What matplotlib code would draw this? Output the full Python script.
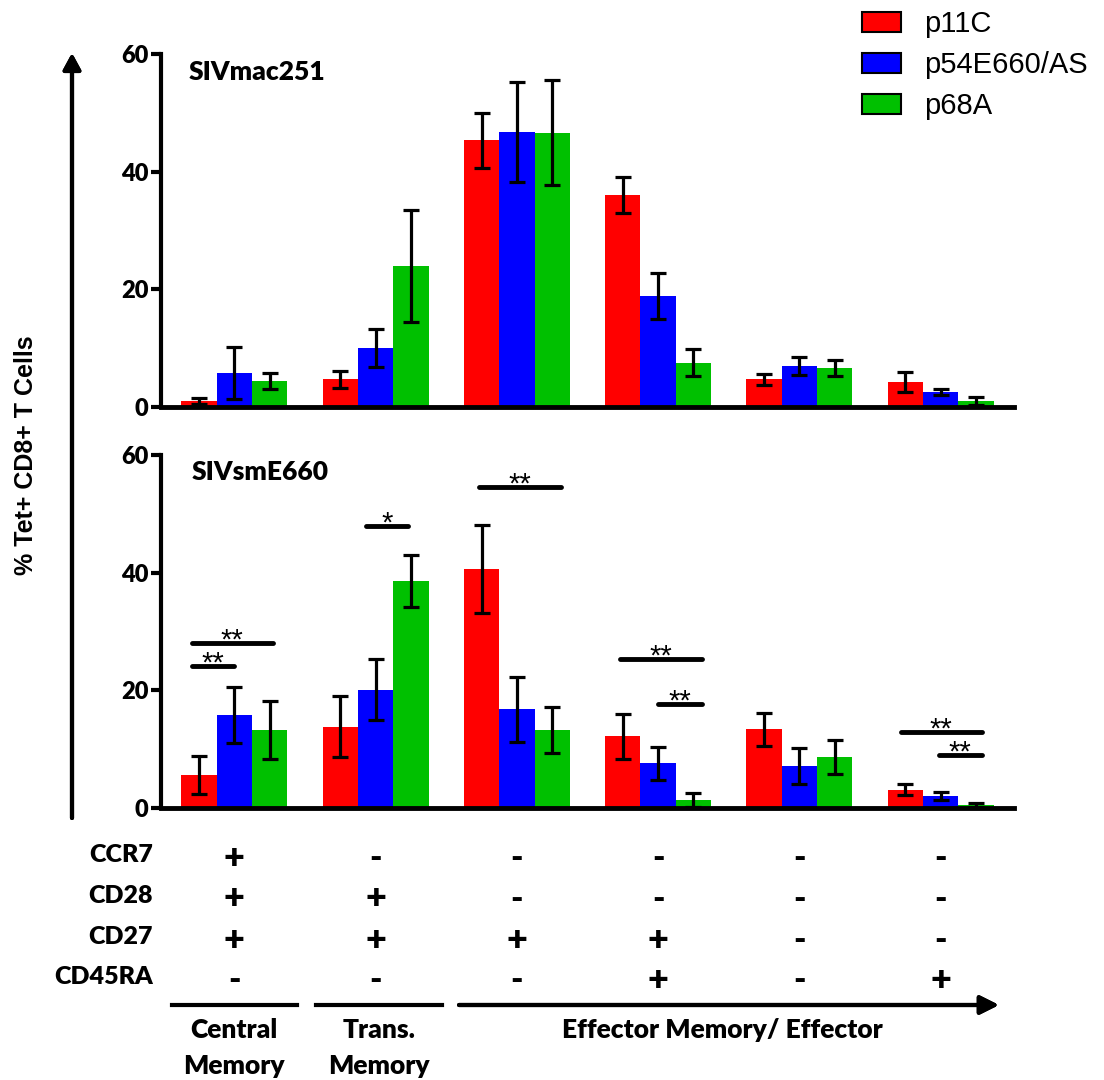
import matplotlib
matplotlib.use("Agg")
import matplotlib.pyplot as plt
import numpy as np
from matplotlib.patches import Patch
from matplotlib.transforms import blended_transform_factory

# Chart data
groups = ["CM", "TM", "EM1", "EM2", "EM3", "EM4"]
series = ["p11C", "p54E660/AS", "p68A"]
colors = ["#ff0000", "#0000ff", "#00c000"]

mac_mean = [[1.0, 4.7, 45.3, 36.0, 4.7, 4.3],
            [5.8, 10.0, 46.8, 18.9, 7.0, 2.6],
            [4.4, 24.0, 46.6, 7.5, 6.6, 1.0]]
mac_err = [[0.5, 1.5, 4.7, 3.1, 0.9, 1.7],
           [4.4, 3.2, 8.5, 3.9, 1.5, 0.5],
           [1.4, 9.5, 8.9, 2.3, 1.4, 0.7]]

sm_mean = [[5.6, 13.8, 40.6, 12.2, 13.4, 3.1],
           [15.8, 20.1, 16.8, 7.6, 7.1, 2.0],
           [13.3, 38.6, 13.3, 1.4, 8.7, 0.5]]
sm_err = [[3.2, 5.2, 7.5, 3.8, 2.8, 0.9],
          [4.8, 5.2, 5.5, 2.8, 3.1, 0.7],
          [4.9, 4.4, 3.9, 1.2, 2.9, 0.4]]

# significance bars in the SIVsmE660 panel: x start, x end, height, label
sig_x1 = [-0.30, -0.30, 0.93, 1.73, 2.73, 3.00, 4.72, 4.99]
sig_x2 = [0.27, 0.00, 1.23, 2.31, 3.31, 3.31, 5.29, 5.29]
sig_y = [28.1, 24.2, 48.0, 54.6, 25.3, 17.7, 12.9, 9.0]
sig_lab = ["**", "**", "*", "**", "**", "**", "**", "**"]

# phenotype table
markers = ["CCR7", "CD28", "CD27", "CD45RA"]
marker_signs = [["+", "-", "-", "-", "-", "-"],
                ["+", "+", "-", "-", "-", "-"],
                ["+", "+", "+", "+", "-", "-"],
                ["-", "-", "-", "+", "-", "+"]]

W, H = 1104, 1080
BOLD = "Lato"
ARIAL = "Liberation Sans"
HEAVY = "heavy"


def fx(px):
    return px / W


def fy(py):
    return 1 - py / H


fig = plt.figure(figsize=(W / 100, H / 100), dpi=100)
ax1 = fig.add_axes([fx(161), fy(407), (1014 - 161) / W, (407 - 54) / H])
ax2 = fig.add_axes([fx(161), fy(808), (1014 - 161) / W, (808 - 455) / H])

x = np.arange(len(groups))
bw = 0.25
offsets = [-bw, 0, bw]

for ax, means, errs in [(ax1, mac_mean, mac_err), (ax2, sm_mean, sm_err)]:
    for i in range(3):
        ax.bar(x + offsets[i], means[i], width=bw, color=colors[i],
               yerr=errs[i], capsize=6,
               error_kw=dict(ecolor="black", elinewidth=2.3, capthick=2.3))
    ax.set_xlim(-0.52, 5.52)
    ax.set_ylim(0, 60)
    ax.set_yticks([0, 20, 40, 60])
    ax.set_xticks([])
    for s in ["top", "right"]:
        ax.spines[s].set_visible(False)
    ax.spines["left"].set_linewidth(3)
    ax.spines["bottom"].set_linewidth(3.5)
    ax.tick_params(axis="y", length=7, width=3, pad=2)
    for lab in ax.get_yticklabels():
        lab.set_fontfamily(BOLD)
        lab.set_fontweight(HEAVY)
        lab.set_fontsize(17)

fig.text(fx(189), fy(72), "SIVmac251", family=BOLD, weight=HEAVY,
         fontsize=19, va="center", ha="left")
fig.text(fx(192), fy(472), "SIVsmE660", family=BOLD, weight=HEAVY,
         fontsize=19, va="center", ha="left")

# significance markers
for x1, x2, yy, lab in zip(sig_x1, sig_x2, sig_y, sig_lab):
    ax2.plot([x1, x2], [yy, yy], color="black", lw=3.5,
             solid_capstyle="round", clip_on=False)
    ax2.annotate(lab, ((x1 + x2) / 2, yy), xytext=(0, -4),
                 textcoords="offset points", ha="center", va="baseline",
                 family=ARIAL, fontsize=21)

# y label with arrow
fig.text(fx(26), fy(455), "% Tet+ CD8+ T Cells", rotation=90, family=ARIAL,
         weight="bold", fontsize=18, ha="center", va="center")
fig.add_artist(plt.annotate("", xy=(72, H - 53), xytext=(72, H - 818),
                            xycoords="figure pixels", textcoords="figure pixels",
                            arrowprops=dict(arrowstyle="-|>,head_length=0.7,head_width=0.38",
                                            lw=3, color="black", mutation_scale=14,
                                            shrinkA=0, shrinkB=0)))

# legend
handles = [Patch(facecolor=c, edgecolor="black", lw=1.5) for c in colors]
fig.legend(handles, series, loc="upper left", bbox_to_anchor=(fx(862), fy(10)),
           frameon=False, prop=dict(family=ARIAL, size=21), handlelength=1.35,
           handleheight=0.7, handletextpad=0.78, labelspacing=0.45,
           borderpad=0, borderaxespad=0)

# phenotype table below the lower panel
tr = blended_transform_factory(ax2.transData, fig.transFigure)
row_y = [855, 896, 937, 977]
for r, name in enumerate(markers):
    fig.text(fx(153), fy(row_y[r]), name, family=BOLD, weight=HEAVY,
             fontsize=18, ha="right", va="center")
    for g in range(len(groups)):
        sign = marker_signs[r][g]
        fig.text(x[g], fy(row_y[r] + 3), sign, transform=tr, family=BOLD,
                 weight=HEAVY, fontsize=26 if sign == "+" else 24,
                 ha="center", va="center")

# memory subset brackets
line_y = H - 1005
fig.add_artist(plt.Line2D([172, 297], [line_y, line_y], lw=3,
                          color="black", transform=None))
fig.add_artist(plt.Line2D([316, 442], [line_y, line_y], lw=3,
                          color="black", transform=None))
fig.add_artist(plt.annotate("", xy=(999, line_y), xytext=(459, line_y),
                            xycoords="figure pixels", textcoords="figure pixels",
                            arrowprops=dict(arrowstyle="-|>,head_length=0.8,head_width=0.4",
                                            lw=3, color="black", mutation_scale=14,
                                            shrinkA=0, shrinkB=0)))
for px, line1, line2 in [(234, "Central", "Memory"), (379, "Trans.", "Memory")]:
    fig.text(fx(px), fy(1030), line1, family=BOLD, weight=HEAVY,
             fontsize=19, ha="center", va="center")
    fig.text(fx(px), fy(1066), line2, family=BOLD, weight=HEAVY,
             fontsize=19, ha="center", va="center")
fig.text(fx(722), fy(1030), "Effector Memory/ Effector", family=BOLD,
         weight=HEAVY, fontsize=19, ha="center", va="center")

fig.savefig("out.png", dpi=100)
